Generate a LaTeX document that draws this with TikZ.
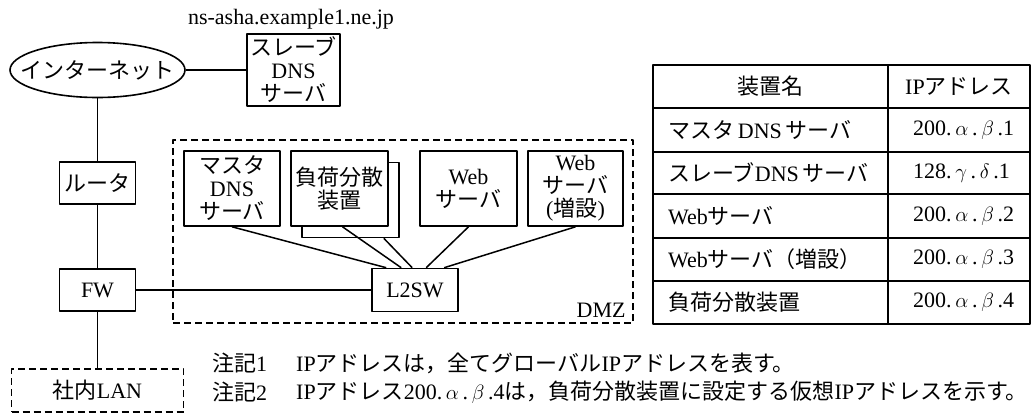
\documentclass[tikz,border=0pt]{standalone}
\usepackage{fontspec}
\setmainfont{Liberation Serif}
\newfontfamily\jp{Noto Sans CJK JP}
\usetikzlibrary{shapes.geometric,calc}
\tikzset{
  dev/.style={draw,line width=1.6pt,inner sep=0pt,align=center,fill=white,minimum width=96pt,minimum height=75pt},
  cut/.style={draw,line width=1.6pt,dash pattern=on 7pt off 4pt,inner sep=0pt},
  wire/.style={line width=1.5pt}
}
\begin{document}
\begin{tikzpicture}[x=1pt,y=-1pt,font=\fontsize{22}{23}\selectfont,line join=round]
\useasboundingbox (0,0) rectangle (1035,413);
\def\tl{653}\def\tm{888}\def\tr{1030}
% left column
\node[draw,ellipse,line width=1.6pt,inner sep=0pt,minimum width=175pt,minimum height=55pt] (inet) at (97.5,70) {\makebox[100pt]{\jp インターネット}};
\node[dev,minimum width=93pt,minimum height=72pt] (slave) at (293.5,70) {{\jp スレーブ}\\DNS\\{\jp サーバ}};
\node (ns) at (291,19) {ns-asha.example1.ne.jp};
\node[dev,minimum width=76pt,minimum height=42pt] (router) at (97.5,183) {\jp ルータ};
\node[dev,minimum width=76pt,minimum height=42pt] (fw) at (97.5,290) {FW};
\node[cut,minimum width=172pt,minimum height=43pt] (lan) at (97.5,390.5) {{\jp 社内}LAN};
\draw[wire] (inet.east) -- (slave.west);
\draw[wire] (inet.south) -- (router.north);
\draw[wire] (router.south) -- (fw.north);
\draw[wire] (fw.south) -- (lan.north);
% DMZ
\node[cut,minimum width=460pt,minimum height=183pt] (dmz) at (403,231.5) {};
\node[anchor=south east,inner sep=0pt] (dmzlbl) at ($(dmz.south east)+(-8,-6)$) {DMZ};
\node[dev] (master) at (232,188.5) {{\jp マスタ}\\DNS\\{\jp サーバ}};
\node[dev,minimum width=97pt] (lbback) at (350.5,200) {};
\node[dev,minimum width=97pt] (lb) at (339.5,188.5) {{\jp 負荷分散}\\{\jp 装置}};
\node[dev,minimum width=97pt] (web) at (468.5,188.5) {Web\\{\jp サーバ}};
\node[dev,minimum width=95pt] (web2) at (575.5,188.5) {Web\\{\jp サーバ}\\({\jp 増設})};
\node[dev,minimum width=86pt,minimum height=43pt] (l2sw) at (415,290) {L2SW};
\draw[wire] (fw.east) -- (l2sw.west);
\draw[wire] (master.south) -- ($(l2sw.north west)+(15,0)$);
\draw[wire] ($(lb.south)+(3,0)$) -- ($(l2sw.north west)+(30,0)$);
\draw[wire] ($(lbback.south east)+(-16,0)$) -- ($(l2sw.north west)+(41,0)$);
\draw[wire] (web.south) -- ($(l2sw.north west)+(55,0)$);
\draw[wire] (web2.south) -- ($(l2sw.north west)+(73,0)$);
% table
\draw[line width=1.6pt] (\tl,65) rectangle (\tr,324);
\draw[line width=1.3pt] (\tm,65) -- (\tm,324);
\foreach \y in {108,152,194,238,281} \draw[line width=1.3pt] (\tl,\y) -- (\tr,\y);
\node (hd1) at (770.5,86.5) {\jp 装置名};
\node (hd2) at (959,86.5) {IP{\jp アドレス}};
\foreach \nm/\ip [count=\i] in {
  {{\jp マスタ}\,DNS\,{\jp サーバ}}/{200.\,$\alpha$\,.\,$\beta$\,.1},
  {{\jp スレーブ}DNS\,{\jp サーバ}}/{128.\,$\gamma$\,.\,$\delta$\,.1},
  {Web{\jp サーバ}}/{200.\,$\alpha$\,.\,$\beta$\,.2},
  {Web{\jp サーバ（増設）}}/{200.\,$\alpha$\,.\,$\beta$\,.3},
  {{\jp 負荷分散装置}}/{200.\,$\alpha$\,.\,$\beta$\,.4}}
{
  \node[anchor=west,inner sep=0pt] (dev\i) at (668,{87+43*\i}) {\nm};
  \node[anchor=west,inner sep=0pt] (ip\i) at (913,{87+43*\i}) {\ip};
}
% notes
\node[anchor=west,inner sep=0pt] (n1) at (212,363) {{\jp 注記}1};
\node[anchor=west,inner sep=0pt] (t1) at (296,363) {IP{\jp アドレスは，全てグローバル}IP{\jp アドレスを表す。}};
\node[anchor=west,inner sep=0pt] (n2) at (212,392) {{\jp 注記}2};
\node[anchor=west,inner sep=0pt] (t2) at (296,392) {IP{\jp アドレス}200.\,$\alpha$\,.\,$\beta$\,.4{\jp は，負荷分散装置に設定する仮想}IP{\jp アドレスを示す。}};
\end{tikzpicture}
\end{document}
